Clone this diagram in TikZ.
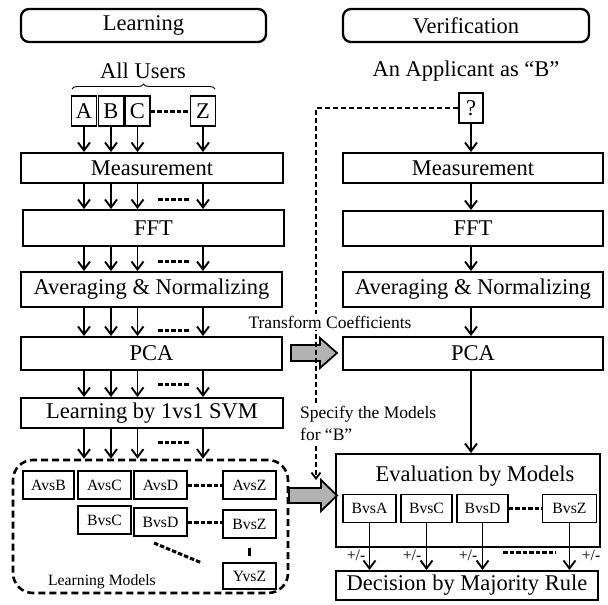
\documentclass[tikz,border=0pt]{standalone}
\usepackage{fontspec}
\setmainfont{Liberation Serif}
\usetikzlibrary{arrows.meta,decorations.pathreplacing,calc}
\newcommand{\bigf}{\fontsize{22.5}{26}\selectfont}
\newcommand{\smallf}{\fontsize{15.7}{19}\selectfont}
\newcommand{\midf}{\fontsize{17.5}{22}\selectfont}
\begin{document}
\begin{tikzpicture}[x=1pt,y=-1pt,
 box/.style={draw,line width=1.9pt,inner sep=0pt,font=\bigf},
 hdr/.style={draw,line width=2.3pt,rounded corners=8pt,inner sep=0pt,font=\bigf},
 mbox/.style={draw,line width=1.9pt,inner sep=0pt,font=\smallf,minimum width=53pt,minimum height=28pt},
 arr/.style={line width=1.9pt,-{Straight Barb[length=8pt,width=12pt]}},
 dots/.style={line width=3pt,dash pattern=on 4.5pt off 2pt},
 conn/.style={line width=1.8pt,dash pattern=on 5pt off 3pt},
 grayarrow/.style={fill=black!30,draw,line width=1.8pt},
 lbl/.style={inner sep=0pt}
]
\useasboundingbox (0,0) rectangle (608,605);

% headers
\node[hdr,minimum width=245pt,minimum height=33pt] (learnH) at (143.5,25.5) {Learning};
\node[hdr,minimum width=246pt,minimum height=33pt] (verH) at (466,25.5) {Verification};
\node[lbl,font=\bigf] (allU) at (143,71) {All Users};
\node[lbl,font=\bigf] (appl) at (466,71) {An Applicant as “B”};
\draw[line width=0.9pt,decorate,decoration={brace,amplitude=5pt}] (72,89) -- (215,89);

% users
\node[box,minimum width=25pt,minimum height=30pt] (A) at (84,111) {A};
\node[box,minimum width=25pt,minimum height=30pt] (B) at (111,111) {B};
\node[box,minimum width=25pt,minimum height=30pt] (C) at (137.5,111) {C};
\node[box,minimum width=25pt,minimum height=30pt] (Z) at (203,111) {Z};
\draw[dots] (C.east) -- (Z.west);
\node[box,minimum width=24pt,minimum height=30pt] (q) at (471,108) {?};

% left column
\node[box,minimum width=262pt,minimum height=30pt] (m1) at (152,168) {Measurement};
\node[box,minimum width=261pt,minimum height=36pt] (f1) at (153.5,228) {FFT};
\node[box,minimum width=261pt,minimum height=35pt] (a1) at (151.5,289.5) {Averaging \& Normalizing};
\node[box,minimum width=261pt,minimum height=33pt] (p1) at (151.5,353.5) {PCA};
\node[box,minimum width=262pt,minimum height=30pt] (s1) at (152,413) {Learning by 1vs1 SVM};
\node[draw,line width=2.6pt,dash pattern=on 7pt off 4pt,rounded corners=20pt,minimum width=275pt,minimum height=133pt,inner sep=0pt] (lm) at (150.5,526.5) {};

\foreach \u in {A,B,C,Z}{
  \draw[arr] (\u.south) -- (m1.north -| \u);
  \draw[arr] (m1.south -| \u) -- (f1.north -| \u);
  \draw[arr] (f1.south -| \u) -- (a1.north -| \u);
  \draw[arr] (a1.south -| \u) -- (p1.north -| \u);
  \draw[arr] (p1.south -| \u) -- (s1.north -| \u);
  \draw[arr] (s1.south -| \u) -- (lm.north -| \u);
}
\draw[dots] (158,199) -- (190,199);
\draw[dots] (158,261) -- (190,261);
\draw[dots] (158,330) -- (190,330);
\draw[dots] (158,384) -- (190,384);
\draw[dots] (158,442) -- (190,442);

% learning models
\node[mbox,minimum width=51pt] (AvsB) at (48.5,485) {AvsB};
\node[mbox] (AvsC) at (104.5,485) {AvsC};
\node[mbox] (AvsD) at (160.5,485) {AvsD};
\node[mbox] (AvsZ) at (249.5,485) {AvsZ};
\node[mbox] (BvsC) at (104.5,520) {BvsC};
\node[mbox] (BvsD) at (160.5,522) {BvsD};
\node[mbox] (BvsZ) at (249.5,524) {BvsZ};
\node[mbox,minimum height=26pt] (YvsZ) at (249.5,576) {YvsZ};
\draw[dots] (AvsD.east) -- (AvsZ.west);
\draw[dots] (BvsD.east) -- (BvsZ.west |- BvsD.east);
\draw[line width=3pt,shorten <=9pt,shorten >=6pt] (BvsZ.south) -- (YvsZ.north);
\draw[dots] (154,543) -- (202,563);
\node[lbl,font=\smallf] (lmt) at (102,582) {Learning Models};

% right column
\node[box,minimum width=260pt,minimum height=30pt] (m2) at (473,168) {Measurement};
\node[box,minimum width=260pt,minimum height=35pt] (f2) at (473,228.5) {FFT};
\node[box,minimum width=260pt,minimum height=35pt] (a2) at (473,289.5) {Averaging \& Normalizing};
\node[box,minimum width=260pt,minimum height=33pt] (p2) at (473,353.5) {PCA};
\node[box,minimum width=264pt,minimum height=93pt] (ev) at (468,500.5) {};
\node[lbl,font=\bigf] (evt) at (475,476) {Evaluation by Models};
\node[box,minimum width=262pt,minimum height=29pt] (dec) at (467,585.5) {Decision by Majority Rule};

\draw[arr] (q.south) -- (q.south |- m2.north);
\draw[arr] (m2.south -| q) -- (f2.north -| q);
\draw[arr] (f2.south -| q) -- (a2.north -| q);
\draw[arr] (a2.south -| q) -- (p2.north -| q);
\draw[arr] (p2.south -| q) -- (ev.north -| q);

\node[mbox] (BvsA2) at (369.5,508.5) {BvsA};
\node[mbox,minimum width=51pt] (BvsC2) at (426.5,508.5) {BvsC};
\node[mbox,minimum width=51pt] (BvsD2) at (482.5,508.5) {BvsD};
\node[mbox,minimum width=54pt] (BvsZ2) at (569.5,508.5) {BvsZ};
\draw[dots] (BvsD2.east) -- (BvsZ2.west);
\foreach \v in {BvsA2,BvsC2,BvsD2,BvsZ2}{
  \draw[arr] (\v.south) -- (dec.north -| \v);
}
\node[lbl,font=\smallf] (pm1) at (356,555) {+/-};
\node[lbl,font=\smallf] (pm2) at (412,555) {+/-};
\node[lbl,font=\smallf] (pm3) at (468,555) {+/-};
\node[lbl,font=\smallf] (pm4) at (591,555) {+/-};
\draw[dots] (503,552) -- (556,552);

% gray transfer arrows
\draw[grayarrow] (291,345) -- (320,345) -- (320,338) -- (337,353) -- (320,368) -- (320,361) -- (291,361) -- cycle;
\draw[grayarrow] (289,488) -- (321,488) -- (321,480) -- (337,495.5) -- (321,511) -- (321,503) -- (289,503) -- cycle;

% dashed connector from applicant
\coordinate (turn) at (316,108);
\coordinate (gtip) at (316,480);
\draw[conn,-{Straight Barb[length=6pt,width=9pt]}] (q.west) -- (turn) -- (gtip);

\node[font=\midf,fill=white,inner sep=1.5pt] (tc) at (330,322) {Transform Coefficients};
\node[font=\midf,fill=white,align=left,anchor=north west,inner sep=2pt] (spec) at (298,404) {Specify the Models\\for “B”};
\end{tikzpicture}
\end{document}
